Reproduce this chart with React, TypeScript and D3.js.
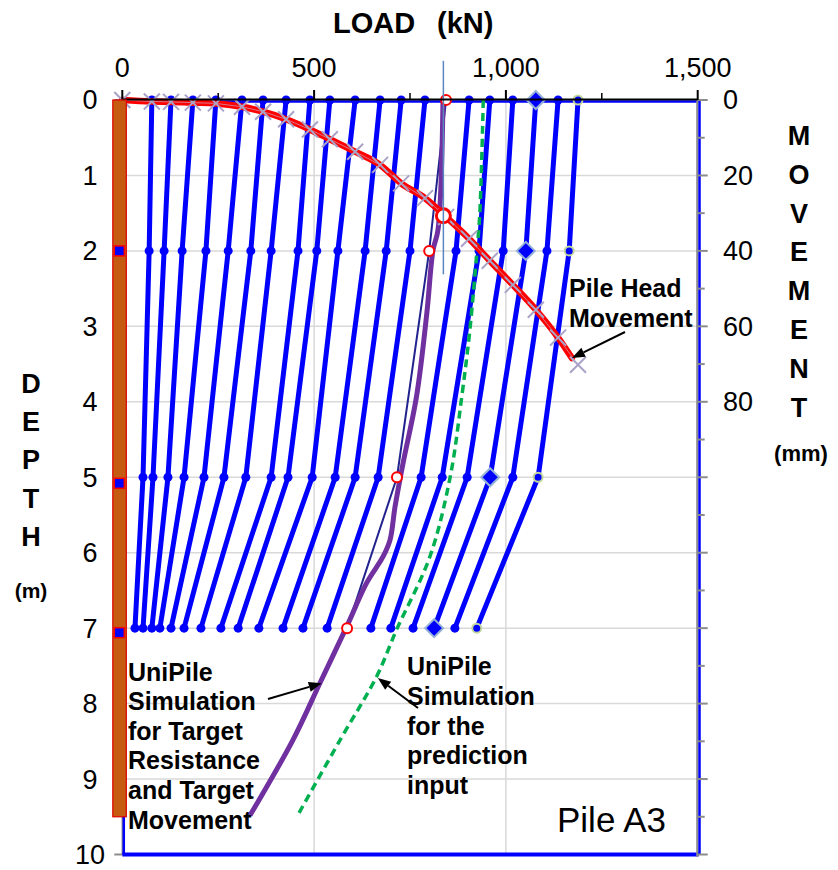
import * as d3 from "d3";

// load (kN) of every UniPile load-distribution curve at the gauge depths
const gaugeDepths = [0, 2, 5, 7];
const loadAt0 = [77, 127, 184, 244, 312, 367, 427, 489, 541, 607, 672, 727, 789, 844, 904, 958, 1018, 1078, 1136, 1188];
const loadAt2 = [70, 109, 156, 218, 276, 335, 388, 458, 507, 562, 633, 688, 750, 800, 870, 930, 993, 1052, 1107, 1165];
const loadAt5 = [54, 80, 119, 161, 213, 265, 322, 388, 432, 495, 555, 607, 667, 716, 779, 834, 899, 959, 1018, 1084];
const loadAt7 = [33, 54, 77, 98, 127, 161, 205, 257, 302, 356, 419, 471, 534, 586, 648, 700, 758, 813, 867, 924];

// pile head load - movement (X markers)
const headLoad = [0, 77, 127, 184, 244, 312, 367, 427, 489, 541, 607, 672, 727, 789, 844, 904, 958, 1018, 1078, 1136, 1188];
const headMove = [0, 0.4, 0.5, 0.7, 0.9, 1.8, 3.1, 5.1, 7.8, 10.4, 13.7, 17.2, 22.1, 26.0, 31.0, 36.8, 42.6, 49.0, 55.6, 63.0, 70.2];

// measured head movement (red line)
const measLoad = [0, 77, 127, 184, 244, 312, 367, 427, 489, 541, 607, 672, 727, 789, 844, 904, 958, 1018, 1078, 1136, 1172];
const measMove = [0, 0.4, 0.5, 0.7, 0.9, 1.8, 3.1, 5.1, 7.8, 10.4, 13.7, 17.2, 22.1, 26.0, 31.0, 36.8, 42.6, 49.0, 55.6, 63.0, 68.4];

// target point
const targetLoad = 837;
const targetMove = 30.7;
const targetLineDepth = [-0.52, 2.31];

// UniPile simulation for target resistance / movement (purple)
const targetSimLoad = [836, 823, 810, 794, 767, 732, 711, 698, 680, 637, 585, 515, 445, 333];
const targetSimDepth = [0, 1.72, 1.99, 2.82, 3.93, 4.81, 5.39, 5.83, 6.05, 6.4, 6.98, 7.73, 8.48, 9.48];

// UniPile simulation for prediction input (green dashed)
const predLoad = [941, 932, 924, 906, 885, 855, 802, 715, 663, 568, 455];
const predDepth = [0, 1.5, 2.03, 3.05, 3.93, 4.99, 6.05, 7.02, 7.64, 8.48, 9.5];

// strain gauge depths on the pile
const gaugeMarks = [2, 5.08, 7.06];
const pileToe = 9.5;

const loadTicks = [0, 500, 1000, 1500];
const loadMinor = [250, 750, 1250];
const loadTickLabels = ["0", "500", "1,000", "1,500"];
const depthTicks = [0, 1, 2, 3, 4, 5, 6, 7, 8, 9, 10];
const moveLabels = [0, 20, 40, 60, 80];
const moveTicks = d3.range(0, 201, 10);

const FONT = "'Liberation Sans', Arial, sans-serif";

const x = d3.scaleLinear().domain([0, 1500]).range([122.3, 697.7]);
const yD = d3.scaleLinear().domain([0, 10]).range([100, 854.5]);
const yM = d3.scaleLinear().domain([0, 200]).range([100, 854.5]);

function Arrow({ x1, y1, x2, y2 }: { x1: number; y1: number; x2: number; y2: number }) {
  const a = Math.atan2(y2 - y1, x2 - x1);
  const len = 13, w = 5;
  const bx = x2 - len * Math.cos(a), by = y2 - len * Math.sin(a);
  const pts = [
    [x2, y2],
    [bx + w * Math.sin(a), by - w * Math.cos(a)],
    [bx - w * Math.sin(a), by + w * Math.cos(a)],
  ];
  return (
    <g>
      <line x1={x1} y1={y1} x2={bx} y2={by} stroke="#000" strokeWidth={2} />
      <polygon points={pts.map((p) => p.join(",")).join(" ")} fill="#000" />
    </g>
  );
}

export default function App() {
  const curves = loadAt0.map((_, i) => [loadAt0[i], loadAt2[i], loadAt5[i], loadAt7[i]]);
  const depthLine = d3.line<[number, number]>().x((d) => x(d[0])).y((d) => yD(d[1]));
  const smoothDepth = d3.line<[number, number]>().x((d) => x(d[0])).y((d) => yD(d[1])).curve(d3.curveCatmullRom);
  const moveLine = d3.line<[number, number]>().x((d) => x(d[0])).y((d) => yM(d[1])).curve(d3.curveMonotoneX);
  const moveLinear = d3.line<[number, number]>().x((d) => x(d[0])).y((d) => yM(d[1]));

  const left = x(0), right = x(1500), top = yD(0), bottom = yD(10);

  const xMark = (cx: number, cy: number, k: number) => (
    <path key={k} d={`M${cx - 8},${cy - 8}L${cx + 8},${cy + 8}M${cx - 8},${cy + 8}L${cx + 8},${cy - 8}`} stroke="#aaa3c8" strokeWidth={2} />
  );

  return (
    <svg width={838} height={870} style={{ position: "absolute", left: 0, top: 0, background: "#fff" }} fontFamily={FONT}>
      {/* gridlines */}
      {depthTicks.slice(1, -1).map((d) => (
        <line key={"h" + d} x1={left} x2={right} y1={yD(d)} y2={yD(d)} stroke="#d9d9d9" strokeWidth={1.5} />
      ))}
      {[500, 1000].map((v) => (
        <line key={"v" + v} x1={x(v)} x2={x(v)} y1={top} y2={bottom} stroke="#d9d9d9" strokeWidth={1.5} />
      ))}

      {/* left axis (grey) */}
      <line x1={left} x2={left} y1={top} y2={bottom} stroke="#8c8c8c" strokeWidth={1.5} />
      {depthTicks.map((d) => (
        <line key={"lt" + d} x1={left - 8} x2={left} y1={yD(d)} y2={yD(d)} stroke="#8c8c8c" strokeWidth={2} />
      ))}
      {/* plot border (blue) */}
      <line x1={left + 1.5} x2={left + 1.5} y1={top} y2={bottom} stroke="#0000ff" strokeWidth={2.5} />
      <line x1={left} x2={right} y1={top + 1.5} y2={top + 1.5} stroke="#0000ff" strokeWidth={2.5} />
      <line x1={left} x2={right + 1} y1={bottom} y2={bottom} stroke="#0000ff" strokeWidth={4} />

      {/* right axis (grey + blue) */}
      <line x1={right - 0.5} x2={right - 0.5} y1={top} y2={bottom + 2} stroke="#8c8c8c" strokeWidth={2} />
      <line x1={right + 1.8} x2={right + 1.8} y1={top} y2={bottom} stroke="#0000ff" strokeWidth={2.5} />
      {moveTicks.map((m) => (
        <line key={"rt" + m} x1={right} x2={right + (m % 20 === 0 ? 10 : 7)} y1={yM(m)} y2={yM(m)} stroke="#8c8c8c" strokeWidth={2} />
      ))}

      {/* load distribution curves */}
      {curves.map((c, i) =>
        i === 13 ? null : (
          <path key={"c" + i} d={depthLine(c.map((v, j) => [v, gaugeDepths[j]]) as [number, number][])!} fill="none" stroke="#0000ff" strokeWidth={5} strokeLinejoin="round" />
        )
      )}
      <path d={depthLine(curves[13].map((v, j) => [v, gaugeDepths[j]]) as [number, number][])!} fill="none" stroke="#23238f" strokeWidth={2} />

      {/* purple target simulation */}
      <path d={smoothDepth(targetSimLoad.map((v, i) => [v, targetSimDepth[i]]) as [number, number][])!} fill="none" stroke="#7030a0" strokeWidth={5} />
      {/* green prediction */}
      <path d={smoothDepth(predLoad.map((v, i) => [v, predDepth[i]]) as [number, number][])!} fill="none" stroke="#00b050" strokeWidth={3.5} strokeDasharray="8,5" />

      {/* markers on distribution curves */}
      {curves.map((c, i) =>
        c.map((v, j) => {
          const cx = x(v), cy = yD(gaugeDepths[j]);
          const k = `m${i}-${j}`;
          if (i === 13) return <circle key={k} cx={cx} cy={cy} r={5} fill="#fff" stroke="#ff0000" strokeWidth={2} />;
          if (i === 17)
            return <path key={k} d={`M${cx},${cy - 9}L${cx + 9},${cy}L${cx},${cy + 9}L${cx - 9},${cy}Z`} fill="#0000ff" stroke="#95b3d7" strokeWidth={2} />;
          if (i === 19) return <circle key={k} cx={cx} cy={cy} r={4.5} fill="#0000ff" stroke="#c4d79b" strokeWidth={2} />;
          return <circle key={k} cx={cx} cy={cy} r={4.5} fill="#0000ff" />;
        })
      )}

      {/* pile head movement */}
      <path d={moveLine(measLoad.map((v, i) => [v, measMove[i]]) as [number, number][])!} fill="none" stroke="#ff0000" strokeWidth={6.5} strokeLinecap="round" />
      <path d={moveLinear(headLoad.map((v, i) => [v, headMove[i]]) as [number, number][])!} fill="none" stroke="#c0b8d4" strokeWidth={0.8} strokeOpacity={0.8} />
      {headLoad.map((v, i) => xMark(x(v), yM(headMove[i]), i))}
      <circle cx={x(targetLoad)} cy={yM(targetMove)} r={7} fill="#fff" stroke="#ff0000" strokeWidth={3} />
      <line x1={x(targetLoad)} x2={x(targetLoad)} y1={yD(targetLineDepth[0])} y2={yD(targetLineDepth[1])} stroke="#5b86c0" strokeWidth={1.5} />

      {/* top axis (black) */}
      <line x1={left} x2={right} y1={top - 0.5} y2={top - 0.5} stroke="#000" strokeWidth={2} />
      {loadTicks.map((v) => (
        <line key={"tt" + v} x1={x(v)} x2={x(v)} y1={top - 10} y2={top} stroke="#000" strokeWidth={2} />
      ))}
      {loadMinor.map((v) => (
        <line key={"tm" + v} x1={x(v)} x2={x(v)} y1={top - 7} y2={top} stroke="#000" strokeWidth={1.5} />
      ))}

      {/* pile */}
      <rect x={left - 9.5} y={top} width={13.5} height={yD(pileToe) - top} fill="#c55a11" stroke="#e00000" strokeWidth={1.2} />
      {gaugeMarks.map((d) => (
        <rect key={"g" + d} x={left - 8} y={yD(d) - 5} width={10} height={10} fill="#0000ff" stroke="#ff0000" strokeWidth={1.5} />
      ))}

      {/* tick labels */}
      <g fontSize={27} fill="#000">
        {loadTicks.map((v, i) => (
          <text key={"xl" + v} x={x(v)} y={77} textAnchor="middle">{loadTickLabels[i]}</text>
        ))}
        {depthTicks.map((d) => (
          <text key={"yl" + d} x={90} y={yD(d)} dy="0.35em" textAnchor="middle">{d}</text>
        ))}
        {moveLabels.map((m) => (
          <text key={"ml" + m} x={723} y={yM(m)} dy="0.35em">{m}</text>
        ))}
      </g>

      {/* axis titles */}
      <g fontWeight="bold" fill="#000">
        <text x={333} y={33} fontSize={29}>LOAD</text>
        <text x={437} y={33} fontSize={29}>(kN)</text>
        {"DEPTH".split("").map((c, i) => (
          <text key={"d" + i} x={31} y={393 + i * 38.2} fontSize={27} textAnchor="middle">{c}</text>
        ))}
        <text x={31} y={598} fontSize={21} textAnchor="middle">(m)</text>
        {"MOVEMENT".split("").map((c, i) => (
          <text key={"mv" + i} x={799} y={145 + i * 38.8} fontSize={27} textAnchor="middle">{c}</text>
        ))}
        <text x={801} y={461} fontSize={22} textAnchor="middle">(mm)</text>
      </g>

      {/* annotations */}
      <g fontWeight="bold" fontSize={25} fill="#000">
        <text x={569} y={297}>Pile Head</text>
        <text x={569} y={327}>Movement</text>
        {["UniPile", "Simulation", "for Target", "Resistance", "and Target", "Movement"].map((t, i) => (
          <text key={"a" + i} x={128} y={680.5 + i * 29.6}>{t}</text>
        ))}
        {["UniPile", "Simulation", "for the", "prediction", "input"].map((t, i) => (
          <text key={"b" + i} x={407} y={675 + i * 29.8}>{t}</text>
        ))}
      </g>
      <text x={557} y={832} fontSize={35} fill="#000">Pile A3</text>

      <Arrow x1={625} y1={332} x2={x(1172)} y2={yM(68.4)} />
      <Arrow x1={268} y1={699} x2={x(520)} y2={yD(7.73)} />
      <Arrow x1={418} y1={708} x2={x(666)} y2={yD(7.66)} />
    </svg>
  );
}
